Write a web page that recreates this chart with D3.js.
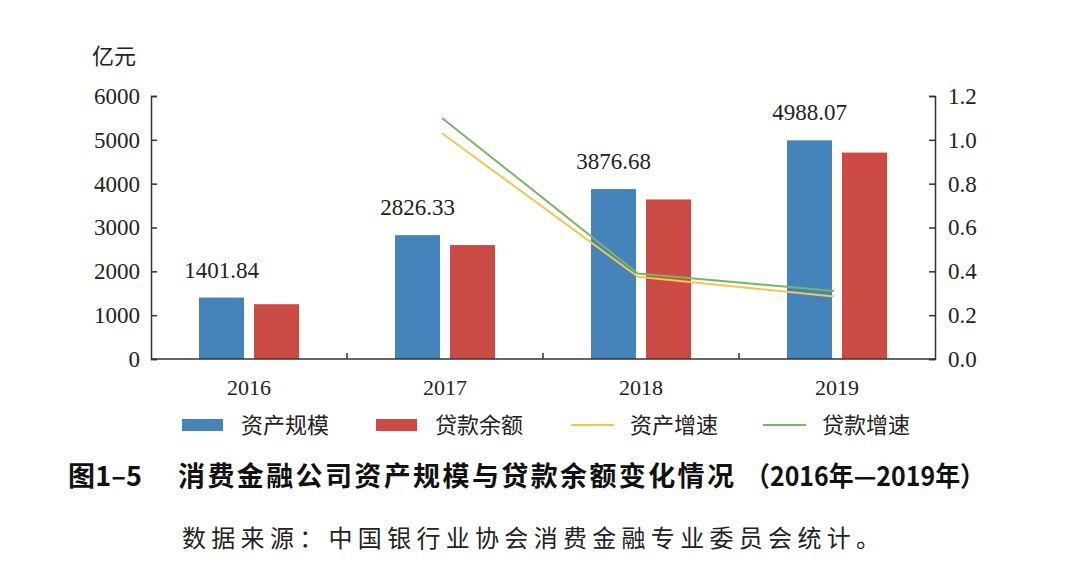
<!DOCTYPE html>
<html><head><meta charset="utf-8">
<script src="https://cdn.jsdelivr.net/npm/d3@7/dist/d3.min.js"></script>
<style>body{margin:0;background:#fff}</style>
</head><body><svg id="c" width="1076" height="576"></svg>
<script>
const categories = ["2016","2017","2018","2019"];
const assetScale = [1401.84, 2826.33, 3876.68, 4988.07];
const loanBalance = [1250, 2600, 3640, 4710];
const assetGrowth = [null, 1.03, 0.375, 0.285];
const loanGrowth = [null, 1.10, 0.39, 0.31];
const leftTicks = [0,1000,2000,3000,4000,5000,6000];
const rightTicks = [0,0.2,0.4,0.6,0.8,1.0,1.2];
const legendLabels = ["资产规模","贷款余额","资产增速","贷款增速"];
const colors = {blue:"#4584BB", red:"#CC4A44", yellow:"#F0C850", green:"#7AB563"};

const svg = d3.select("#c");
const L = 151, R = 935, T = 96, B = 359;
const serif = "'Liberation Serif','Times New Roman',serif";
const cjk = "'Noto Sans CJK SC',sans-serif";

const x = d3.scaleBand().domain(categories).range([L, R]);
const yL = d3.scaleLinear().domain([0, 6000]).range([B, T]);
const yR = d3.scaleLinear().domain([0, 1.2]).range([B, T]);

// bars
const bw = 45, gap = 10;
const off = (x.bandwidth() - 2*bw - gap)/2;
svg.append("g").selectAll("rect").data(categories).join("rect")
  .attr("x", d => x(d) + off).attr("width", bw)
  .attr("y", (d,i) => yL(assetScale[i])).attr("height", (d,i) => B - yL(assetScale[i]))
  .attr("fill", colors.blue);
svg.append("g").selectAll("rect").data(categories).join("rect")
  .attr("x", d => x(d) + off + bw + gap).attr("width", bw)
  .attr("y", (d,i) => yL(loanBalance[i])).attr("height", (d,i) => B - yL(loanBalance[i]))
  .attr("fill", colors.red);

// data labels
svg.append("g").selectAll("text").data(categories).join("text")
  .attr("x", d => x(d) + off + bw/2).attr("y", (d,i) => yL(assetScale[i]) - 20)
  .attr("text-anchor","middle").attr("font-family", serif).attr("font-size", 23).attr("fill","#222")
  .text((d,i) => assetScale[i].toFixed(2));

// lines
const line = d3.line().defined(d => d.v != null)
  .x(d => x(d.c) + x.bandwidth()/2 - 3).y(d => yR(d.v));
[[assetGrowth, colors.yellow],[loanGrowth, colors.green]].forEach(([arr,col]) => {
  svg.append("path").datum(categories.map((c,i)=>({c, v: arr[i]})))
    .attr("d", line).attr("fill","none").attr("stroke", col).attr("stroke-width", 2);
});

// left axis
const axL = svg.append("g").attr("transform", `translate(${L},0)`)
  .call(d3.axisLeft(yL).tickValues(leftTicks).tickSize(-6).tickPadding(11).tickFormat(d3.format("d")));
// right axis
const axR = svg.append("g").attr("transform", `translate(${R},0)`)
  .call(d3.axisRight(yR).tickValues(rightTicks).tickSize(-6).tickPadding(13).tickFormat(d3.format(".1f")));
// bottom axis
const axB = svg.append("g").attr("transform", `translate(0,${B})`)
  .call(d3.axisBottom(x).tickSize(0).tickPadding(20));
axB.select(".domain").attr("d", `M${L},0H${R}`);
// category separators
svg.append("g").selectAll("line").data(categories.slice(1)).join("line")
  .attr("x1", d => x(d)).attr("x2", d => x(d)).attr("y1", B).attr("y2", B-6)
  .attr("stroke","#333").attr("stroke-width",1.5);

[axL, axR, axB].forEach(g => {
  g.selectAll(".domain").attr("stroke","#333").attr("stroke-width",1.5);
  g.selectAll(".tick line").attr("stroke","#333").attr("stroke-width",1.5);
  g.selectAll("text").attr("font-family", serif).attr("font-size", 23).attr("fill","#222");
});
axB.selectAll("text").attr("font-size", 22);

// unit label
svg.append("text").attr("x", 114).attr("y", 64).attr("text-anchor","middle")
  .attr("font-family", cjk).attr("font-size", 22).attr("fill","#222").text("亿元");

// legend
const lg = svg.append("g");
const legX = [182, 376, 571, 763];
legendLabels.forEach((lab, i) => {
  const g = lg.append("g").attr("transform", `translate(${legX[i]},0)`);
  if (i < 2) g.append("rect").attr("x",0).attr("y",419).attr("width",41).attr("height",12)
      .attr("fill", i===0 ? colors.blue : colors.red);
  else g.append("line").attr("x1",0).attr("x2",43).attr("y1",425).attr("y2",425)
      .attr("stroke", i===2 ? colors.yellow : colors.green).attr("stroke-width",2);
  g.append("text").attr("x", 59).attr("y", 433).attr("font-family", cjk).attr("font-size", 22)
    .attr("fill","#222").text(lab);
});

// title
const tstyle = s => s.attr("font-family", cjk).attr("font-weight","bold").attr("font-size", 27).attr("fill","#111");
svg.append("text").attr("x", 68).attr("y", 486).call(tstyle)
  .attr("textLength", 74).attr("lengthAdjust","spacing").text("图1–5");
svg.append("text").attr("x", 178).attr("y", 486).call(tstyle)
  .attr("textLength", 556).attr("lengthAdjust","spacing").text("消费金融公司资产规模与贷款余额变化情况");
svg.append("text").attr("x", 745).attr("y", 486).call(tstyle)
  .attr("textLength", 240).attr("lengthAdjust","spacingAndGlyphs").text("（2016年—2019年）");
// source
svg.append("text").attr("x", 182).attr("y", 547).attr("font-family", cjk)
  .attr("font-size", 24).attr("textLength", 698).attr("lengthAdjust","spacing").attr("fill","#222")
  .text("数据来源：中国银行业协会消费金融专业委员会统计。");
</script></body></html>
